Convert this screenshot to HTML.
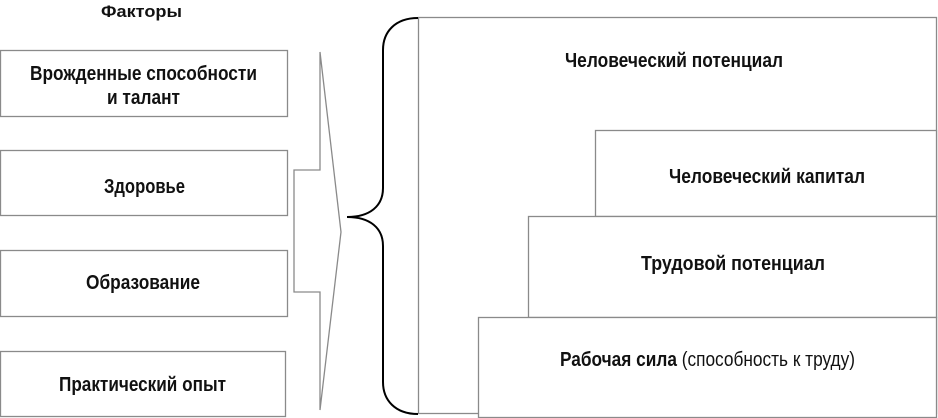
<!DOCTYPE html>
<html><head><meta charset="utf-8"><style>
html,body{margin:0;padding:0;background:#fff;}
svg{display:block;}
text{font-family:"Liberation Sans",sans-serif;font-size:20px;fill:#111;}
.b{font-weight:bold;}
</style></head><body>
<svg width="938" height="418" viewBox="0 0 938 418" xmlns="http://www.w3.org/2000/svg">
<g fill="#fff" stroke="#8a8a8a" stroke-width="1.3">
<rect x="0.5" y="50.5" width="287" height="66"/>
<rect x="0.5" y="150.5" width="287" height="65"/>
<rect x="0.5" y="250.5" width="287" height="66"/>
<rect x="0.5" y="351.5" width="285" height="65"/>
<polygon points="320,52 320,170 294,170 294,292 320,292 320,410 341,232"/>
<rect x="418.5" y="17.5" width="518" height="396"/>
<rect x="595.5" y="130.5" width="341" height="86"/>
<rect x="528.5" y="216.5" width="408" height="101"/>
<rect x="478.5" y="317.5" width="458" height="100"/>
</g>
<path d="M418,18 C395,18 383,32 383,50 L383,188 C383,206 370,217 347,217 C370,217 383,228 383,246 L383,382 C383,400 395,414 418,414" fill="none" stroke="#000" stroke-width="2"/>
<text class="b" x="101" y="17" textLength="81" lengthAdjust="spacingAndGlyphs" style="font-size:17px">Факторы</text>
<text class="b" x="30" y="80" textLength="227" lengthAdjust="spacingAndGlyphs">Врожденные способности</text>
<text class="b" x="107" y="104" textLength="73" lengthAdjust="spacingAndGlyphs">и талант</text>
<text class="b" x="104" y="193" textLength="81" lengthAdjust="spacingAndGlyphs">Здоровье</text>
<text class="b" x="86" y="289" textLength="114" lengthAdjust="spacingAndGlyphs">Образование</text>
<text class="b" x="59" y="391" textLength="167" lengthAdjust="spacingAndGlyphs">Практический опыт</text>
<text class="b" x="565" y="67" textLength="218" lengthAdjust="spacingAndGlyphs">Человеческий потенциал</text>
<text class="b" x="669" y="183" textLength="196" lengthAdjust="spacingAndGlyphs">Человеческий капитал</text>
<text class="b" x="641" y="270" textLength="184" lengthAdjust="spacingAndGlyphs">Трудовой  потенциал</text>
<text x="560" y="366" textLength="295" lengthAdjust="spacingAndGlyphs"><tspan class="b">Рабочая сила</tspan> (способность к труду)</text>
</svg>
</body></html>
